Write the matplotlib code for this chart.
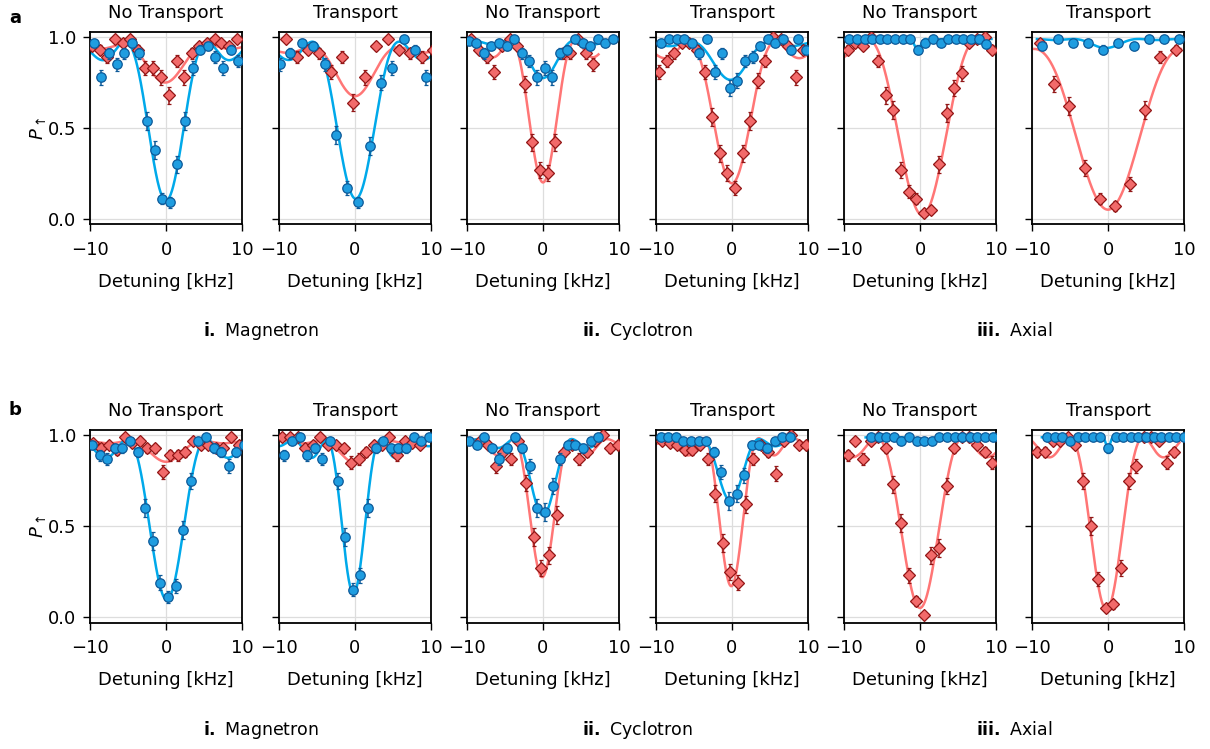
import numpy as np
import matplotlib
matplotlib.use('Agg')
import matplotlib.pyplot as plt

# ---- data: row a ----
# magnetron, no transport
a_mag_nt_blue_x = [-9.5, -8.5, -7.5, -6.5, -5.5, -4.5, -3.5, -2.5, -1.5, -0.5, 0.5, 1.5, 2.5, 3.5, 4.5, 5.5, 6.5, 7.5, 8.5, 9.5]
a_mag_nt_blue_y = [0.97, 0.78, 0.91, 0.85, 0.91, 0.97, 0.91, 0.54, 0.38, 0.11, 0.09, 0.30, 0.54, 0.83, 0.93, 0.95, 0.89, 0.83, 0.93, 0.87]
a_mag_nt_red_x = [-9.7, -8.7, -7.7, -6.7, -5.7, -4.7, -3.7, -2.7, -1.7, -0.6, 0.4, 1.4, 2.4, 3.4, 4.4, 5.4, 6.4, 7.3, 8.3, 9.3]
a_mag_nt_red_y = [0.95, 0.93, 0.89, 0.99, 0.97, 0.99, 0.93, 0.83, 0.83, 0.78, 0.68, 0.87, 0.78, 0.91, 0.95, 0.97, 0.99, 0.97, 0.95, 0.99]
# magnetron, transport
a_mag_t_blue_x = [-9.9, -8.5, -7.0, -5.5, -4.0, -2.5, -1.05, 0.45, 1.95, 3.45, 4.9, 6.4, 7.9, 9.4]
a_mag_t_blue_y = [0.85, 0.91, 0.97, 0.95, 0.85, 0.46, 0.17, 0.09, 0.40, 0.75, 0.83, 0.99, 0.93, 0.78]
a_mag_t_red_x = [-9.1, -7.6, -6.2, -4.7, -3.2, -1.7, -0.2, 1.3, 2.8, 4.3, 5.8, 7.3, 8.8, 10.2]
a_mag_t_red_y = [0.99, 0.89, 0.93, 0.91, 0.81, 0.89, 0.64, 0.78, 0.95, 0.99, 0.93, 0.91, 0.89, 0.93]
# cyclotron, no transport
a_cyc_nt_blue_x = [-9.8, -8.8, -7.8, -6.8, -5.8, -4.8, -3.8, -2.8, -1.8, -0.8, 0.2, 1.2, 2.2, 3.2, 4.2, 5.2, 6.2, 7.2, 8.2, 9.2]
a_cyc_nt_blue_y = [0.98, 0.97, 0.91, 0.95, 0.97, 0.95, 0.99, 0.91, 0.87, 0.78, 0.83, 0.78, 0.91, 0.93, 0.99, 0.97, 0.95, 0.99, 0.97, 0.99]
a_cyc_nt_red_x = [-9.5, -8.4, -7.4, -6.4, -5.4, -4.4, -3.4, -2.4, -1.4, -0.4, 0.6, 1.6, 2.6, 3.6, 4.6, 5.6, 6.6]
a_cyc_nt_red_y = [0.99, 0.93, 0.89, 0.81, 0.95, 0.99, 0.95, 0.74, 0.42, 0.27, 0.25, 0.42, 0.91, 0.91, 0.99, 0.91, 0.85]
# cyclotron, transport
a_cyc_t_blue_x = [-9.3, -8.3, -7.3, -6.3, -5.3, -4.3, -3.3, -2.3, -1.3, -0.3, 0.7, 1.7, 2.7, 3.7, 4.7, 5.7, 6.7, 7.7, 8.7, 9.7]
a_cyc_t_blue_y = [0.97, 0.99, 0.99, 0.99, 0.97, 0.91, 0.99, 0.81, 0.91, 0.72, 0.76, 0.87, 0.89, 0.95, 0.99, 0.97, 0.99, 0.93, 0.99, 0.93]
a_cyc_t_red_x = [-9.6, -8.6, -7.6, -6.6, -5.6, -4.6, -3.6, -2.6, -1.6, -0.6, 0.4, 1.4, 2.4, 3.4, 4.4, 5.4, 6.4, 7.4, 8.4, 9.4]
a_cyc_t_red_y = [0.81, 0.87, 0.91, 0.97, 0.97, 0.93, 0.81, 0.56, 0.36, 0.25, 0.17, 0.36, 0.54, 0.76, 0.87, 1.0, 0.99, 0.95, 0.78, 0.93]
# axial, no transport
a_ax_nt_blue_x = [-9.3, -8.3, -7.3, -6.3, -5.3, -4.3, -3.3, -2.3, -1.3, -0.3, 0.7, 1.7, 2.7, 3.7, 4.7, 5.7, 6.7, 7.7, 8.7]
a_ax_nt_blue_y = [0.99, 0.99, 0.99, 0.99, 0.99, 0.99, 0.99, 0.99, 0.99, 0.93, 0.97, 0.99, 0.97, 0.99, 0.99, 0.99, 0.99, 0.99, 0.96]
a_ax_nt_red_x = [-9.5, -8.5, -7.5, -6.5, -5.5, -4.5, -3.5, -2.5, -1.5, -0.5, 0.5, 1.5, 2.5, 3.5, 4.5, 5.5, 6.5, 7.5, 8.5, 9.5]
a_ax_nt_red_y = [0.93, 0.97, 0.95, 1.0, 0.87, 0.68, 0.60, 0.27, 0.15, 0.11, 0.03, 0.05, 0.30, 0.58, 0.72, 0.80, 0.97, 0.99, 1.0, 0.93]
# axial, transport
a_ax_t_blue_x = [-8.65, -6.6, -4.65, -2.6, -0.6, 1.35, 3.4, 5.4, 7.4, 9.4]
a_ax_t_blue_y = [0.95, 0.99, 0.97, 0.97, 0.93, 0.97, 0.95, 0.99, 0.99, 0.99]
a_ax_t_red_x = [-9.0, -7.05, -5.1, -3.05, -1.1, 0.9, 2.9, 4.9, 6.9, 8.9]
a_ax_t_red_y = [0.97, 0.74, 0.62, 0.28, 0.11, 0.07, 0.19, 0.60, 0.89, 0.93]

# ---- data: row b ----
b_mag_nt_blue_x = [-9.75, -8.75, -7.75, -6.75, -5.75, -4.75, -3.75, -2.75, -1.75, -0.75, 0.25, 1.25, 2.25, 3.25, 4.25, 5.25, 6.25, 7.25, 8.25, 9.25, 10.25]
b_mag_nt_blue_y = [0.95, 0.89, 0.87, 0.93, 0.93, 0.97, 0.91, 0.60, 0.42, 0.19, 0.11, 0.17, 0.48, 0.75, 0.97, 0.99, 0.93, 0.91, 0.83, 0.91, 0.95]
b_mag_nt_red_x = [-9.55, -8.5, -7.45, -6.45, -5.45, -4.45, -3.45, -2.45, -1.45, -0.45, 0.55, 1.55, 2.55, 3.55, 4.55, 5.55, 6.55, 7.55, 8.55, 9.55]
b_mag_nt_red_y = [0.96, 0.93, 0.95, 0.92, 0.99, 0.96, 0.97, 0.93, 0.93, 0.80, 0.89, 0.89, 0.91, 0.97, 0.95, 0.95, 0.93, 0.93, 0.99, 0.95]
b_mag_t_blue_x = [-9.3, -8.3, -7.3, -6.3, -5.3, -4.3, -3.3, -2.3, -1.3, -0.3, 0.7, 1.7, 2.7, 3.7, 4.7, 5.7, 6.7, 7.7, 8.7, 9.7]
b_mag_t_blue_y = [0.89, 0.97, 0.99, 0.89, 0.93, 0.87, 0.97, 0.75, 0.44, 0.15, 0.23, 0.60, 0.93, 0.97, 0.93, 0.93, 0.93, 0.99, 0.97, 0.99]
b_mag_t_red_x = [-9.6, -8.55, -7.55, -6.55, -5.55, -4.55, -3.55, -2.55, -1.5, -0.5, 0.5, 1.5, 2.5, 3.5, 4.5, 5.5, 6.55, 7.55, 8.55]
b_mag_t_red_y = [0.99, 0.99, 0.99, 0.93, 0.95, 0.99, 0.95, 0.95, 0.93, 0.85, 0.87, 0.91, 0.95, 0.95, 0.99, 0.89, 0.97, 0.96, 0.95]
b_cyc_nt_blue_x = [-9.75, -8.75, -7.75, -6.75, -5.75, -4.75, -3.75, -2.75, -1.75, -0.75, 0.25, 1.25, 2.25, 3.25, 4.25, 5.25, 6.25, 7.25]
b_cyc_nt_blue_y = [0.97, 0.95, 0.99, 0.93, 0.87, 0.93, 0.99, 0.93, 0.83, 0.60, 0.58, 0.72, 0.87, 0.95, 0.95, 0.93, 0.97, 0.99]
b_cyc_nt_red_x = [-8.25, -7.25, -6.25, -5.25, -4.25, -3.25, -2.25, -1.2, -0.2, 0.8, 1.8, 2.8, 3.8, 4.8, 5.85, 6.85, 7.85, 8.85, 9.85]
b_cyc_nt_red_y = [0.97, 0.95, 0.83, 0.91, 0.87, 0.97, 0.74, 0.44, 0.27, 0.34, 0.56, 0.91, 0.95, 0.87, 0.91, 0.97, 1.0, 0.93, 0.95]
b_cyc_t_blue_x = [-9.4, -8.4, -7.4, -6.4, -5.4, -4.4, -3.4, -2.4, -1.4, -0.4, 0.6, 1.6, 2.6, 3.6, 4.6, 5.6, 6.6, 7.6]
b_cyc_t_blue_y = [0.99, 0.99, 0.99, 0.97, 0.97, 0.97, 0.97, 0.91, 0.80, 0.64, 0.68, 0.78, 0.95, 0.95, 0.93, 0.97, 0.99, 0.99]
b_cyc_t_red_x = [-9.2, -8.2, -7.2, -6.2, -5.2, -4.2, -3.2, -2.2, -1.2, -0.2, 0.8, 1.8, 2.8, 3.8, 4.8, 5.8, 6.8, 7.8, 8.8, 9.8]
b_cyc_t_red_y = [0.97, 0.96, 0.95, 0.92, 0.92, 0.95, 0.87, 0.68, 0.41, 0.25, 0.19, 0.62, 0.87, 0.95, 0.91, 0.79, 0.97, 1.0, 0.95, 0.95]
b_ax_nt_blue_x = [-6.45, -5.45, -4.45, -3.45, -2.45, -1.45, -0.45, 0.55, 1.55, 2.55, 3.55, 4.55, 5.55, 6.55, 7.55, 8.55, 9.55]
b_ax_nt_blue_y = [0.99, 0.99, 0.99, 0.99, 0.97, 0.99, 0.97, 0.97, 0.97, 0.99, 0.99, 0.99, 0.99, 0.99, 0.99, 0.99, 0.99]
b_ax_nt_red_x = [-9.5, -8.5, -7.5, -6.5, -5.5, -4.5, -3.5, -2.5, -1.5, -0.5, 0.5, 1.5, 2.5, 3.5, 4.5, 5.5, 6.5, 7.5, 8.5, 9.5]
b_ax_nt_red_y = [0.89, 0.97, 0.87, 0.97, 0.99, 0.93, 0.73, 0.52, 0.23, 0.09, 0.01, 0.34, 0.38, 0.72, 0.93, 0.99, 0.99, 0.95, 0.91, 0.85]
b_ax_t_blue_x = [-8, -7, -6, -5, -4, -3, -2, -1, 0, 1, 2, 3, 4, 5, 6, 7, 8, 9, 10]
b_ax_t_blue_y = [0.99, 0.99, 0.99, 0.97, 0.99, 0.99, 0.99, 0.99, 0.93, 0.99, 0.99, 0.99, 0.99, 0.99, 0.99, 0.99, 0.99, 0.99, 0.99]
b_ax_t_red_x = [-9.3, -8.3, -7.3, -6.3, -5.3, -4.3, -3.3, -2.3, -1.3, -0.3, 0.7, 1.7, 2.7, 3.7, 4.7, 5.7, 6.7, 7.7, 8.7]
b_ax_t_red_y = [0.91, 0.91, 0.97, 0.97, 0.99, 0.95, 0.75, 0.50, 0.21, 0.05, 0.07, 0.27, 0.75, 0.83, 0.99, 0.99, 0.97, 0.85, 0.91]

# fitted Rabi line shapes: [top, depth, Rabi frequency (kHz), centre (kHz)]
a_fit_blue = [[0.975, 0.875, 3.1, 0.0], [0.975, 0.865, 3.3, 0.1], [0.985, 0.21, 2.5, 0.0],
              [0.975, 0.21, 3.0, -0.2], [0.99, 0.06, 0.6, -0.3], [0.99, 0.05, 2.5, -0.3]]
a_fit_red = [[0.96, 0.21, 3.2, -0.1], [0.945, 0.27, 3.3, 0.0], [0.98, 0.78, 2.45, 0.0],
             [0.975, 0.78, 3.3, 0.0], [0.99, 0.97, 4.2, 0.3], [0.935, 0.885, 5.6, 0.0]]
b_fit_blue = [[0.98, 0.885, 3.0, 0.1], [0.975, 0.845, 2.05, -0.2], [0.98, 0.42, 2.2, 0.0],
              [0.98, 0.34, 2.2, -0.2], [0.99, 0.02, 1.5, 0.0], [0.99, 0.06, 0.4, 0.0]]
b_fit_red = [[0.97, 0.115, 2.8, 0.0], [0.97, 0.12, 2.6, 0.0], [0.98, 0.76, 2.2, -0.1],
             [0.985, 0.815, 2.1, -0.1], [0.99, 0.94, 3.3, 0.0], [0.99, 0.95, 2.8, -0.2]]

N_SHOTS = 100  # shots per point -> projection-noise error bars

titles = ['No Transport', 'Transport'] * 3
groups = [('i.', 'Magnetron'), ('ii.', 'Cyclotron'), ('iii.', 'Axial')]

rows = [
    ('a', [(a_mag_nt_blue_x, a_mag_nt_blue_y, a_mag_nt_red_x, a_mag_nt_red_y),
           (a_mag_t_blue_x, a_mag_t_blue_y, a_mag_t_red_x, a_mag_t_red_y),
           (a_cyc_nt_blue_x, a_cyc_nt_blue_y, a_cyc_nt_red_x, a_cyc_nt_red_y),
           (a_cyc_t_blue_x, a_cyc_t_blue_y, a_cyc_t_red_x, a_cyc_t_red_y),
           (a_ax_nt_blue_x, a_ax_nt_blue_y, a_ax_nt_red_x, a_ax_nt_red_y),
           (a_ax_t_blue_x, a_ax_t_blue_y, a_ax_t_red_x, a_ax_t_red_y)],
     a_fit_blue, a_fit_red),
    ('b', [(b_mag_nt_blue_x, b_mag_nt_blue_y, b_mag_nt_red_x, b_mag_nt_red_y),
           (b_mag_t_blue_x, b_mag_t_blue_y, b_mag_t_red_x, b_mag_t_red_y),
           (b_cyc_nt_blue_x, b_cyc_nt_blue_y, b_cyc_nt_red_x, b_cyc_nt_red_y),
           (b_cyc_t_blue_x, b_cyc_t_blue_y, b_cyc_t_red_x, b_cyc_t_red_y),
           (b_ax_nt_blue_x, b_ax_nt_blue_y, b_ax_nt_red_x, b_ax_nt_red_y),
           (b_ax_t_blue_x, b_ax_t_blue_y, b_ax_t_red_x, b_ax_t_red_y)],
     b_fit_blue, b_fit_red),
]


def rabi(d, top, depth, om, centre):
    r2 = ((d - centre) / om) ** 2
    return top - depth * np.sin(np.pi / 2 * np.sqrt(1 + r2)) ** 2 / (1 + r2)


def shot_err(p):
    p = np.asarray(p)
    return np.maximum(np.sqrt(p * (1 - p) / N_SHOTS), 0.012)


def fit_grid(x):
    # the fit is only drawn over the scanned range
    return np.linspace(max(min(x) - 0.7, -10), min(max(x) + 0.7, 10), 500)


plt.rcParams['font.family'] = ['DejaVu Sans']
plt.rcParams['font.size'] = 13
plt.rcParams['mathtext.fontset'] = 'dejavusans'

BLUE, BLUE_EDGE, BLUE_LINE = '#1f9de0', '#0d5a99', '#00a9ea'
RED, RED_EDGE, RED_LINE = '#f26a6a', '#921616', '#ff7676'

W, H = 1210, 749
fig = plt.figure(figsize=(W / 100, H / 100), dpi=100)

lefts_px = [90, 279, 467, 656, 844, 1032]
width_px = 152
tops_px = [31.7, 430]
height_px = 192.5
group_y_px = [331, 730]
label_y_px = [18, 410]

for r, (letter, panels, fit_blue, fit_red) in enumerate(rows):
    for i, (bx, by, rx, ry) in enumerate(panels):
        ax = fig.add_axes([lefts_px[i] / W, 1 - (tops_px[r] + height_px) / H,
                           width_px / W, height_px / H])
        dr = fit_grid(rx)
        db = fit_grid(bx)
        ax.plot(dr, rabi(dr, *fit_red[i]), color=RED_LINE, lw=1.8, zorder=2)
        ax.plot(db, rabi(db, *fit_blue[i]), color=BLUE_LINE, lw=1.8, zorder=2)
        ax.errorbar(rx, ry, yerr=shot_err(ry), fmt='D', ms=6.3, mfc=RED, mec=RED_EDGE,
                    mew=0.9, ecolor=RED_EDGE, elinewidth=1.1, capsize=1.2, zorder=3)
        ax.errorbar(bx, by, yerr=shot_err(by), fmt='o', ms=6.8, mfc=BLUE, mec=BLUE_EDGE,
                    mew=0.9, ecolor=BLUE_EDGE, elinewidth=1.1, capsize=1.2, zorder=4)
        ax.set_xlim(-10, 10)
        ax.set_ylim(-0.03, 1.03)
        ax.set_xticks([-10, 0, 10])
        ax.set_yticks([0, 0.5, 1.0])
        ax.grid(True, color='#dddddd', lw=0.9, zorder=0)
        ax.set_axisbelow(True)
        for s in ax.spines.values():
            s.set_linewidth(1.3)
        ax.tick_params(direction='out', length=5, width=1.0, pad=5)
        ax.tick_params(axis='x', pad=7)
        ax.set_title(titles[i], pad=10, fontsize=13)
        ax.set_xlabel('Detuning [kHz]', labelpad=10)
        if i == 0:
            ax.set_yticklabels(['0.0', '0.5', '1.0'])
            ax.set_ylabel(r'$P_\uparrow$', labelpad=0)
        else:
            ax.set_yticklabels([])

    for g, (num, name) in enumerate(groups):
        xc = (lefts_px[2 * g] + lefts_px[2 * g + 1] + width_px) / 2
        fig.text(xc / W, 1 - group_y_px[r] / H, r'$\mathbf{' + num + '}$ ' + name,
                 ha='center', va='center', fontsize=12.5)
    fig.text(15 / W, 1 - label_y_px[r] / H, letter, fontweight='bold',
             ha='center', va='center')

fig.savefig('out.png', dpi=100)
